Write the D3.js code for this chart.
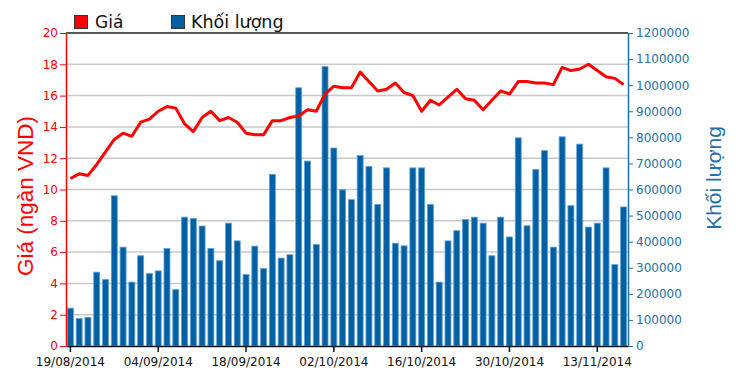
<!DOCTYPE html>
<html lang="vi">
<head>
    <meta charset="UTF-8">
    <script src="https://d3js.org/d3.v7.min.js"></script>
    <title>Gia va khoi luong</title>
    <style>
        body { margin: 0; background: #fff; }
    </style>
</head>
<body>
    <svg width="736" height="379" id="chart"></svg>
    <script>
        // trading days shown on the chart
        const dates = [
            "19/08/2014","20/08/2014","21/08/2014","22/08/2014","25/08/2014","26/08/2014","27/08/2014","28/08/2014","29/08/2014","03/09/2014",
            "04/09/2014","05/09/2014","08/09/2014","09/09/2014","10/09/2014","11/09/2014","12/09/2014","15/09/2014","16/09/2014","17/09/2014",
            "18/09/2014","19/09/2014","22/09/2014","23/09/2014","24/09/2014","25/09/2014","26/09/2014","29/09/2014","30/09/2014","01/10/2014",
            "02/10/2014","03/10/2014","06/10/2014","07/10/2014","08/10/2014","09/10/2014","10/10/2014","13/10/2014","14/10/2014","15/10/2014",
            "16/10/2014","17/10/2014","20/10/2014","21/10/2014","22/10/2014","23/10/2014","24/10/2014","27/10/2014","28/10/2014","29/10/2014",
            "30/10/2014","31/10/2014","03/11/2014","04/11/2014","05/11/2014","06/11/2014","07/11/2014","10/11/2014","11/11/2014","12/11/2014",
            "13/11/2014","14/11/2014","17/11/2014","18/11/2014"
        ];

        // price (ngan VND)
        const price = [
            10.7, 11.0, 10.9, 11.6, 12.4, 13.2, 13.6, 13.4, 14.3, 14.5,
            15.0, 15.3, 15.2, 14.2, 13.7, 14.6, 15.0, 14.4, 14.6, 14.3,
            13.6, 13.5, 13.5, 14.4, 14.4, 14.6, 14.7, 15.1, 15.0, 16.1,
            16.6, 16.5, 16.5, 17.5, 16.9, 16.3, 16.4, 16.8, 16.2, 16.0,
            15.0, 15.7, 15.4, 15.9, 16.4, 15.8, 15.7, 15.1, 15.7, 16.3,
            16.1, 16.9, 16.9, 16.8, 16.8, 16.7, 17.8, 17.6, 17.7, 18.0,
            17.6, 17.2, 17.1, 16.7
        ];

        // volume
        const volume = [
            145000, 105000, 110000, 283000, 255000, 576000, 379000, 245000, 346000, 278000,
            288000, 374000, 216000, 494000, 489000, 460000, 374000, 327000, 471000, 403000,
            274000, 383000, 297000, 658000, 337000, 350000, 990000, 709000, 389000, 1071000,
            759000, 599000, 561000, 730000, 688000, 543000, 683000, 394000, 384000, 683000,
            683000, 543000, 245000, 403000, 442000, 485000, 494000, 471000, 346000, 494000,
            418000, 798000, 461000, 677000, 749000, 379000, 802000, 538000, 774000, 456000,
            471000, 683000, 312000, 533000
        ];

        const priceTicks = [0, 2, 4, 6, 8, 10, 12, 14, 16, 18, 20];
        const volumeTicks = [0, 100000, 200000, 300000, 400000, 500000, 600000, 700000, 800000, 900000, 1000000, 1100000, 1200000];
        const dateTicks = ["19/08/2014", "04/09/2014", "18/09/2014", "02/10/2014", "16/10/2014", "30/10/2014", "13/11/2014"];

        const red = "#ff0000";
        const blue = "#2270a6";
        const barFill = "#0560a2";

        let svg = d3.select("#chart");

        const plotLeft = 66, plotRight = 628, plotTop = 33, plotBottom = 346;

        let x = d3.scaleBand().domain(dates).range([plotLeft, plotRight]).paddingInner(0.32).paddingOuter(0.16);
        let yP = d3.scaleLinear().domain([0, 20]).range([plotBottom, plotTop]);
        let yV = d3.scaleLinear().domain([0, 1200000]).range([plotBottom, plotTop]);

        // grid lines
        svg.append("g")
            .selectAll("line")
            .data(priceTicks.slice(1, -1))
            .join("line")
            .attr("x1", plotLeft)
            .attr("x2", plotRight)
            .attr("y1", d => yP(d))
            .attr("y2", d => yP(d))
            .attr("style", "stroke: #c8c8c8; stroke-width: 1.5");

        // top border
        svg.append("line")
            .attr("x1", plotLeft)
            .attr("x2", plotRight)
            .attr("y1", plotTop)
            .attr("y2", plotTop)
            .attr("style", "stroke: #222; stroke-width: 1.5");

        // volume bars
        svg.append("g")
            .selectAll("rect")
            .data(volume)
            .join("rect")
            .attr("x", (d, i) => x(dates[i]))
            .attr("y", d => yV(d))
            .attr("width", x.bandwidth())
            .attr("height", d => plotBottom - yV(d))
            .attr("fill", barFill)
            .attr("style", "stroke: #5aa2e0; stroke-width: 0.8");

        // price line
        let line = d3.line()
            .x((d, i) => x(dates[i]) + x.bandwidth() / 2)
            .y(d => yP(d));

        svg.append("path")
            .datum(price)
            .attr("d", line)
            .attr("fill", "none")
            .attr("style", "stroke: " + red + "; stroke-width: 3; stroke-linejoin: round");

        // x axis
        let xAxis = svg.append("g")
            .attr("transform", "translate(0," + plotBottom + ")")
            .call(d3.axisBottom(x).tickValues(dateTicks).tickSize(6).tickSizeOuter(0));
        xAxis.select(".domain").attr("stroke", "#111").attr("stroke-width", 1.5);
        xAxis.selectAll(".tick line").attr("stroke", "#111").attr("stroke-width", 1.5);
        xAxis.selectAll("text")
            .attr("fill", "#111")
            .attr("dy", "0.95em")
            .attr("style", "font-family: 'DejaVu Sans'; font-size: 12px");

        // left axis (price)
        let yAxisL = svg.append("g")
            .attr("transform", "translate(" + plotLeft + ",0)")
            .call(d3.axisLeft(yP).tickValues(priceTicks).tickSize(6).tickSizeOuter(0));
        yAxisL.select(".domain").attr("stroke", red).attr("stroke-width", 1.5);
        yAxisL.selectAll(".tick line").attr("stroke", red);
        yAxisL.selectAll("text")
            .attr("fill", red)
            .attr("x", -8)
            .attr("style", "font-family: 'DejaVu Sans'; font-size: 12px");

        // right axis (volume)
        let yAxisR = svg.append("g")
            .attr("transform", "translate(" + plotRight + ",0)")
            .call(d3.axisRight(yV).tickValues(volumeTicks).tickFormat(d3.format("d")).tickSize(5).tickSizeOuter(0));
        yAxisR.select(".domain").attr("stroke", blue).attr("stroke-width", 1.5);
        yAxisR.selectAll(".tick line").attr("stroke", blue);
        yAxisR.selectAll("text")
            .attr("fill", blue)
            .attr("x", 8)
            .attr("style", "font-family: 'DejaVu Sans'; font-size: 12px");

        // axis titles
        svg.append("text")
            .attr("transform", "translate(33,196) rotate(-90)")
            .attr("text-anchor", "middle")
            .attr("fill", red)
            .text("Giá (ngàn VND)")
            .attr("style", "font-family: 'Liberation Sans'; font-size: 22.5px");

        svg.append("text")
            .attr("transform", "translate(721,178) rotate(-90)")
            .attr("text-anchor", "middle")
            .attr("fill", blue)
            .text("Khối lượng")
            .attr("style", "font-family: 'Liberation Sans'; font-size: 21px");

        // legend
        svg.append("rect")
            .attr("x", 74.5)
            .attr("y", 15.5)
            .attr("width", 13)
            .attr("height", 13)
            .attr("fill", red)
            .attr("style", "stroke: #333; stroke-width: 1");

        svg.append("text")
            .attr("x", 95)
            .attr("y", 28)
            .text("Giá")
            .attr("fill", "#111")
            .attr("style", "font-family: 'DejaVu Sans'; font-size: 17px");

        svg.append("rect")
            .attr("x", 171.5)
            .attr("y", 15.5)
            .attr("width", 13)
            .attr("height", 13)
            .attr("fill", barFill)
            .attr("style", "stroke: #333; stroke-width: 1");

        svg.append("text")
            .attr("x", 191)
            .attr("y", 28)
            .text("Khối lượng")
            .attr("fill", "#111")
            .attr("style", "font-family: 'DejaVu Sans'; font-size: 17.5px");
    </script>
</body>
</html>
